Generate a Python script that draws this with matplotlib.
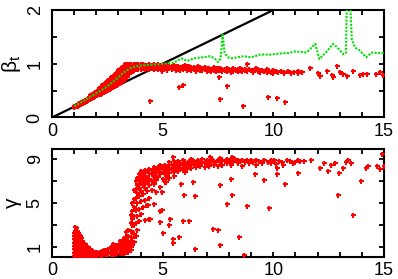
import matplotlib
matplotlib.use("Agg")
import matplotlib.pyplot as plt

plt.rcParams['font.family'] = ['Liberation Sans', 'DejaVu Sans']
plt.rcParams['mathtext.fontset'] = 'custom'
plt.rcParams['mathtext.rm'] = 'Liberation Sans'
plt.rcParams['mathtext.it'] = 'Liberation Sans'

# ---------------- data: top panel (beta_t) ----------------
ref_line_x = [0, 10]
ref_line_y = [0, 2]

beta_dense = [
    (1.00, 0.20), (1.00, 0.22), (1.08, 0.21), (1.08, 0.23), (1.16, 0.22), (1.16, 0.25),
    (1.24, 0.24), (1.24, 0.27), (1.32, 0.25), (1.32, 0.28), (1.40, 0.27), (1.40, 0.30),
    (1.48, 0.28), (1.48, 0.32), (1.56, 0.30), (1.56, 0.34), (1.64, 0.32), (1.64, 0.36),
    (1.72, 0.34), (1.72, 0.38), (1.72, 0.41), (1.80, 0.36), (1.80, 0.40), (1.80, 0.43),
    (1.88, 0.38), (1.88, 0.42), (1.88, 0.45), (1.96, 0.40), (1.96, 0.44), (1.96, 0.47),
    (2.04, 0.41), (2.04, 0.45), (2.04, 0.49), (2.12, 0.43), (2.12, 0.47), (2.12, 0.51),
    (2.12, 0.54), (2.20, 0.44), (2.20, 0.49), (2.20, 0.53), (2.20, 0.57), (2.28, 0.46),
    (2.28, 0.51), (2.28, 0.56), (2.28, 0.60), (2.36, 0.48), (2.36, 0.53), (2.36, 0.58),
    (2.36, 0.63), (2.44, 0.49), (2.44, 0.55), (2.44, 0.61), (2.44, 0.66), (2.52, 0.51),
    (2.52, 0.57), (2.52, 0.63), (2.52, 0.69), (2.60, 0.53), (2.60, 0.59), (2.60, 0.66),
    (2.60, 0.72), (2.68, 0.55), (2.68, 0.62), (2.68, 0.69), (2.68, 0.75), (2.76, 0.57),
    (2.76, 0.64), (2.76, 0.71), (2.76, 0.78), (2.84, 0.58), (2.84, 0.66), (2.84, 0.74),
    (2.84, 0.81), (2.92, 0.60), (2.92, 0.68), (2.92, 0.77), (2.92, 0.85), (3.00, 0.62),
    (3.00, 0.71), (3.00, 0.80), (3.00, 0.88), (3.08, 0.64), (3.08, 0.73), (3.08, 0.82),
    (3.08, 0.91), (3.16, 0.66), (3.16, 0.76), (3.16, 0.85), (3.16, 0.94), (3.24, 0.69),
    (3.24, 0.79), (3.24, 0.88), (3.24, 0.96), (3.32, 0.72), (3.32, 0.82), (3.32, 0.91),
    (3.32, 0.98), (3.32, 1.00), (3.40, 0.76), (3.40, 0.85), (3.40, 0.93), (3.40, 0.99),
    (3.48, 0.80), (3.48, 0.88), (3.48, 0.95), (3.48, 1.00), (3.56, 0.84), (3.56, 0.91),
    (3.56, 0.97), (3.56, 1.00), (3.64, 0.87), (3.64, 0.93), (3.64, 0.98), (3.72, 0.89),
    (3.72, 0.95), (3.72, 0.99), (3.80, 0.90), (3.80, 0.96), (3.80, 1.00), (3.90, 0.91),
    (3.90, 0.96), (3.90, 0.99), (4.00, 0.91), (4.00, 0.95), (4.00, 0.99), (4.10, 0.92),
    (4.10, 0.96), (4.10, 1.00), (4.20, 0.90), (4.20, 0.95), (4.20, 0.98), (4.30, 0.92),
    (4.30, 0.97), (4.40, 0.91), (4.40, 0.96), (4.40, 0.99), (4.50, 0.93), (4.50, 0.97),
    (4.60, 0.90), (4.60, 0.95), (4.60, 0.99), (4.70, 0.92), (4.70, 0.97), (4.80, 0.91),
    (4.80, 0.96), (4.80, 0.99), (4.90, 0.93), (4.90, 0.97), (5.00, 0.90), (5.00, 0.95),
    (5.00, 0.98), (5.10, 0.92), (5.10, 0.97), (5.20, 0.89), (5.20, 0.94), (5.20, 0.98),
    (5.30, 0.93), (5.30, 0.96), (5.40, 0.90), (5.40, 0.95), (5.50, 0.92), (5.50, 0.97),
    (5.60, 0.89), (5.60, 0.94), (5.70, 0.91), (5.70, 0.96), (5.80, 0.93), (5.80, 0.88),
    (5.90, 0.95), (5.90, 0.90), (6.00, 0.92), (6.00, 0.97),
]

beta_spread = [
    (6.1, 0.89), (6.1, 0.94), (6.2, 0.91), (6.2, 0.95), (6.3, 0.93), (6.3, 0.88),
    (6.4, 0.90), (6.4, 0.94), (6.5, 0.92), (6.5, 0.87), (6.6, 0.95), (6.6, 0.90),
    (6.7, 0.91), (6.7, 0.88), (6.8, 0.93), (6.8, 0.89), (6.9, 0.90), (6.9, 0.94),
    (7.0, 0.92), (7.0, 0.87), (7.1, 0.89), (7.1, 0.93), (7.2, 0.91), (7.2, 0.86),
    (7.3, 0.94), (7.3, 0.89), (7.4, 0.90), (7.4, 0.87), (7.5, 0.92), (7.5, 0.88),
    (7.6, 0.89), (7.6, 0.93), (7.7, 0.86), (7.7, 0.91), (7.8, 0.90), (7.8, 0.88),
    (7.9, 0.87), (7.9, 0.92), (8.0, 0.91), (8.0, 0.88), (8.1, 0.89), (8.1, 0.85),
    (8.2, 0.92), (8.2, 0.87), (8.3, 0.88), (8.4, 0.90), (8.4, 0.86), (8.5, 0.93),
    (8.5, 0.89), (8.6, 0.87), (8.7, 0.90), (8.7, 0.88), (8.8, 0.86), (8.83, 0.99),
    (8.9, 0.91), (9.0, 0.88), (9.1, 0.85), (9.1, 0.89), (9.2, 0.92), (9.3, 0.87),
    (9.4, 0.84), (9.4, 0.89), (9.5, 0.88), (9.6, 0.86), (9.7, 0.90), (9.7, 0.84),
    (9.8, 0.87), (9.9, 0.85), (10.0, 0.88), (10.0, 0.83), (10.1, 0.86), (10.2, 0.84),
    (10.35, 0.87), (10.5, 0.85), (10.5, 0.82), (10.65, 0.86), (10.8, 0.83),
    (10.95, 0.85), (11.1, 0.86), (11.1, 0.82), (11.3, 0.84), (11.66, 0.92),
    (12.04, 0.83), (12.1, 0.78), (12.41, 0.86), (12.64, 0.79), (12.71, 0.75),
    (12.90, 0.96), (13.01, 0.85), (13.16, 0.81), (13.32, 0.78), (13.59, 0.87),
    (13.92, 0.79), (14.05, 0.80), (14.22, 0.80), (14.64, 0.81), (14.82, 0.85),
    (14.94, 0.79),
]

beta_outliers = [
    (4.43, 0.31), (4.96, 0.86), (5.75, 0.57), (5.93, 0.61), (7.55, 0.75),
    (7.59, 0.34), (7.89, 0.59), (8.65, 0.22), (9.78, 0.38), (10.18, 0.36),
    (10.53, 0.28),
]

mean_x = [1.0, 1.25, 1.5, 1.75, 2.0, 2.25, 2.5, 2.75, 3.0, 3.25, 3.5, 3.75, 4.0,
          4.5, 5.0, 5.5, 5.86, 6.1, 6.4, 6.8, 7.14, 7.35, 7.5, 7.62, 7.71, 7.8,
          7.95, 8.12, 8.65, 9.0, 9.4, 9.85, 10.3, 10.7, 11.0, 11.5, 11.9, 12.08,
          12.4, 12.7, 12.9, 13.16, 13.28, 13.33, 13.45, 13.55, 13.7, 13.9, 14.2,
          14.45, 14.7, 15.0]
mean_y = [0.21, 0.27, 0.33, 0.39, 0.45, 0.51, 0.58, 0.66, 0.75, 0.84, 0.91, 0.95,
          0.97, 0.98, 1.00, 1.02, 1.10, 1.05, 1.10, 1.12, 1.14, 1.10, 1.03, 1.10,
          1.54, 1.20, 1.12, 1.10, 1.14, 1.12, 1.17, 1.17, 1.19, 1.20, 1.23, 1.21,
          1.37, 1.09, 1.22, 1.37, 1.30, 1.18, 1.20, 2.30, 2.30, 1.45, 1.30, 1.25,
          1.12, 1.21, 1.20, 1.20]

# ---------------- data: bottom panel (gamma) ----------------
gamma_low = [
    (1.00, 0.2), (1.00, 0.5), (1.00, 0.8), (1.00, 1.1), (1.00, 1.4), (1.00, 1.7), (1.00, 2.0), (1.00, 2.3),
    (1.04, 0.3), (1.04, 0.6), (1.04, 0.9), (1.04, 1.2), (1.04, 1.5), (1.04, 1.8), (1.04, 2.1), (1.04, 2.5), (1.04, 2.8),
    (1.08, 0.2), (1.08, 0.5), (1.08, 0.8), (1.08, 1.1), (1.08, 1.4), (1.08, 1.7), (1.08, 2.0), (1.08, 2.4), (1.08, 2.7),
    (1.12, 0.3), (1.12, 0.6), (1.12, 0.9), (1.12, 1.2), (1.12, 1.5), (1.12, 1.8), (1.12, 2.2), (1.12, 2.5),
    (1.16, 0.2), (1.16, 0.5), (1.16, 0.8), (1.16, 1.1), (1.16, 1.4), (1.16, 1.7), (1.16, 2.0), (1.16, 2.3),
    (1.20, 0.3), (1.20, 0.6), (1.20, 0.9), (1.20, 1.2), (1.20, 1.5), (1.20, 1.8), (1.20, 2.1),
    (1.25, 0.2), (1.25, 0.5), (1.25, 0.8), (1.25, 1.1), (1.25, 1.4), (1.25, 1.7), (1.25, 2.0),
    (1.30, 0.3), (1.30, 0.6), (1.30, 0.9), (1.30, 1.2), (1.30, 1.5), (1.30, 1.8),
    (1.36, 0.2), (1.36, 0.5), (1.36, 0.8), (1.36, 1.1), (1.36, 1.4), (1.36, 1.6),
    (1.42, 0.3), (1.42, 0.6), (1.42, 0.9), (1.42, 1.2), (1.42, 1.4),
    (1.48, 0.2), (1.48, 0.5), (1.48, 0.8), (1.48, 1.1), (1.48, 1.3),
    (1.55, 0.3), (1.55, 0.6), (1.55, 0.9), (1.55, 1.1),
    (1.62, 0.25), (1.62, 0.5), (1.62, 0.75), (1.62, 1.0),
    (1.70, 0.3), (1.70, 0.55), (1.70, 0.8), (1.78, 0.25), (1.78, 0.5), (1.78, 0.7),
    (1.86, 0.3), (1.86, 0.5), (1.86, 0.65), (1.95, 0.3), (1.95, 0.45), (1.95, 0.6),
    (2.05, 0.3), (2.05, 0.45), (2.05, 0.6), (2.15, 0.3), (2.15, 0.45), (2.15, 0.6),
    (2.25, 0.3), (2.25, 0.5), (2.25, 0.65), (2.35, 0.35), (2.35, 0.5), (2.35, 0.7),
    (2.45, 0.35), (2.45, 0.55), (2.45, 0.75), (2.55, 0.35), (2.55, 0.55), (2.55, 0.8),
    (2.65, 0.4), (2.65, 0.6), (2.65, 0.85), (2.65, 1.0), (2.75, 0.4), (2.75, 0.65),
    (2.75, 0.9), (2.77, 1.3), (2.85, 0.4), (2.85, 0.65), (2.85, 0.9), (2.85, 1.1),
    (2.95, 0.45), (2.95, 0.7), (2.95, 0.95), (2.95, 1.2),
    (3.05, 0.45), (3.05, 0.7), (3.05, 1.0), (3.05, 1.3), (3.05, 1.6),
    (3.15, 0.5), (3.15, 0.75), (3.15, 1.0), (3.15, 1.3), (3.15, 1.6),
    (3.25, 0.5), (3.25, 0.8), (3.25, 1.1), (3.25, 1.4), (3.25, 1.8),
    (3.35, 0.55), (3.35, 0.85), (3.35, 1.15), (3.35, 1.5), (3.35, 1.9), (3.35, 2.4),
    (3.45, 0.6), (3.45, 0.9), (3.45, 1.2), (3.45, 1.6), (3.45, 2.0), (3.45, 2.6),
]

gamma_rise = [
    (3.55, 0.7), (3.55, 1.0), (3.55, 1.4), (3.55, 1.9), (3.55, 2.5), (3.55, 3.2), (3.55, 3.9),
    (3.62, 1.2), (3.62, 1.8), (3.62, 2.4), (3.62, 3.0), (3.62, 3.6), (3.62, 4.3), (3.62, 5.0),
    (3.70, 1.5), (3.70, 2.2), (3.70, 3.0), (3.70, 3.8), (3.70, 4.6), (3.70, 5.4), (3.70, 6.2),
    (3.78, 2.0), (3.78, 3.2), (3.78, 4.4), (3.78, 5.5), (3.78, 6.3), (3.78, 7.0),
    (3.86, 2.6), (3.86, 3.8), (3.86, 5.0), (3.86, 5.9), (3.86, 6.6), (3.86, 7.3),
    (3.94, 3.4), (3.94, 4.5), (3.94, 5.6), (3.94, 6.4), (3.94, 7.0), (3.94, 7.6),
    (4.02, 4.0), (4.02, 5.2), (4.02, 6.1), (4.02, 6.8), (4.02, 7.4), (4.02, 7.9),
    (4.10, 4.6), (4.10, 5.8), (4.10, 6.6), (4.10, 7.2), (4.10, 7.7),
    (4.20, 3.5), (4.20, 5.3), (4.20, 6.4), (4.20, 7.0), (4.20, 7.5), (4.20, 8.0),
    (4.30, 4.8), (4.30, 6.1), (4.30, 6.9), (4.30, 7.4), (4.30, 7.9),
    (4.40, 3.6), (4.40, 5.5), (4.40, 6.6), (4.40, 7.2), (4.40, 7.7), (4.40, 8.1),
    (4.50, 6.2), (4.50, 7.0), (4.50, 7.6), (4.50, 8.0),
    (4.60, 4.9), (4.60, 6.7), (4.60, 7.4), (4.60, 7.9), (4.60, 8.3),
    (4.70, 6.0), (4.70, 7.1), (4.70, 7.7), (4.70, 8.1),
    (4.80, 7.4), (4.80, 7.9), (4.80, 8.3), (4.90, 6.5), (4.90, 7.6), (4.90, 8.1), (4.90, 8.5),
    (5.00, 7.2), (5.00, 7.8), (5.00, 8.3), (5.10, 6.9), (5.10, 7.6), (5.10, 8.0), (5.10, 8.5),
    (5.20, 7.4), (5.20, 8.0), (5.20, 8.4), (5.30, 7.7), (5.30, 8.2), (5.30, 8.7),
]

gamma_plateau = [
    (5.4, 8.0), (5.4, 8.5), (5.5, 7.8), (5.5, 8.3), (5.5, 8.8), (5.6, 8.1), (5.6, 8.6),
    (5.7, 7.9), (5.7, 8.4), (5.7, 8.8), (5.8, 8.2), (5.8, 8.6), (5.9, 8.0), (5.9, 8.5),
    (5.9, 8.9), (6.0, 8.3), (6.0, 8.7), (6.1, 8.1), (6.1, 8.6), (6.2, 8.4), (6.2, 8.8),
    (6.3, 8.2), (6.3, 8.6), (6.3, 9.0), (6.4, 8.5), (6.4, 8.8), (6.5, 8.3), (6.5, 8.7),
    (6.6, 8.6), (6.6, 8.9), (6.7, 8.4), (6.7, 8.8), (6.8, 8.6), (6.8, 9.0), (6.9, 8.3),
    (6.9, 8.7), (7.0, 8.6), (7.0, 8.9), (7.1, 8.4), (7.1, 8.8), (7.2, 8.7), (7.2, 9.0),
    (7.3, 8.5), (7.3, 8.8), (7.4, 8.7), (7.5, 8.4), (7.5, 8.9), (7.6, 8.7), (7.6, 9.1),
    (7.7, 8.5), (7.7, 8.9), (7.8, 8.8), (7.9, 8.6), (7.9, 9.0), (8.0, 8.8), (8.1, 8.5),
    (8.1, 8.9), (8.2, 8.7), (8.2, 9.1), (8.3, 8.9), (8.4, 8.6), (8.4, 8.9), (8.5, 8.8),
    (8.6, 8.4), (8.6, 8.9), (8.7, 8.7), (8.8, 8.9), (8.9, 8.6), (9.0, 8.9), (9.1, 8.7),
    (9.2, 8.5), (9.2, 8.9), (9.35, 8.8), (9.5, 8.6), (9.6, 8.9), (9.75, 8.7), (9.9, 8.9),
    (9.9, 8.6), (10.0, 8.8), (10.05, 8.95), (10.1, 8.55), (10.25, 8.8), (10.4, 8.7),
    (10.45, 8.5), (10.6, 8.9), (10.75, 8.85), (10.9, 8.6), (11.0, 8.75), (11.1, 8.9),
    (11.2, 8.85), (11.4, 8.8), (11.69, 8.9), (12.11, 8.2), (12.3, 8.6), (12.49, 7.9),
    (12.6, 8.5), (12.8, 8.6), (12.98, 7.7), (13.16, 8.15), (13.3, 8.7), (13.39, 8.9),
    (13.5, 8.6), (14.19, 8.2), (14.3, 8.4), (14.67, 8.39), (14.82, 8.09), (14.9, 9.45),
    (15.0, 8.4),
]

gamma_outliers = [
    (5.48, 9.2), (7.14, 9.2), (8.12, 9.2), (7.59, 6.65), (8.09, 7.15), (8.15, 5.75),
    (7.89, 4.96), (8.83, 4.76), (9.80, 4.56), (9.60, 7.05), (9.17, 7.6), (6.39, 6.87),
    (5.81, 6.72), (5.98, 5.72), (6.46, 5.66), (4.88, 4.26), (5.33, 3.53), (5.28, 3.04),
    (5.03, 2.31), (5.93, 3.35), (6.20, 3.35), (5.48, 1.77), (5.46, 1.40), (5.74, 1.91),
    (6.46, 0.79), (7.29, 2.66), (7.52, 2.57), (7.58, 1.18), (8.43, 1.90), (8.66, 0.27),
    (10.17, 8.15), (10.18, 7.65), (10.52, 6.69), (11.13, 7.7), (12.94, 5.72),
    (13.59, 3.93), (13.95, 7.02), (4.96, 4.35), (4.43, 3.6), (4.35, 4.8), (4.88, 3.28),
    (4.95, 6.0), (5.15, 6.9), (5.30, 7.3), (5.50, 7.5), (6.00, 7.8),
]

# ---------------- figure ----------------
fig = plt.figure(figsize=(3.98, 2.79), dpi=100)
ax1 = fig.add_axes([0.1307, 0.579, 0.834, 0.385])
ax2 = fig.add_axes([0.1307, 0.0806, 0.834, 0.385])

red = '#ff0000'
mk = dict(marker='+', linestyle='none', color=red, markersize=3.6, mew=1.5)

def xy(pts):
    return [p[0] for p in pts], [p[1] for p in pts]

ax1.plot(ref_line_x, ref_line_y, color='black', lw=1.6, zorder=2)
for grp in (beta_dense, beta_spread, beta_outliers):
    gx, gy = xy(grp)
    ax1.plot(gx, gy, zorder=3, **mk)
ax1.plot(mean_x, mean_y, color='#00e000', lw=1.5, linestyle=(0, (1, 0.7)), zorder=4)

for grp in (gamma_low, gamma_rise, gamma_plateau, gamma_outliers):
    gx, gy = xy(grp)
    ax2.plot(gx, gy, zorder=3, **mk)

ax1.set_xlim(0, 15)
ax1.set_ylim(0, 2)
ax2.set_xlim(0, 15)
ax2.set_ylim(0.15, 9.9)

xt = list(range(16))
xl = [str(v) if v % 5 == 0 else '' for v in xt]
for ax in (ax1, ax2):
    ax.set_xticks(xt)
    ax.set_xticklabels(xl)
    ax.tick_params(direction='in', length=3.5, width=1.3, top=True, right=True,
                   labelsize=13, pad=4)
    for s in ax.spines.values():
        s.set_linewidth(1.5)

ax1.set_yticks([0, 0.5, 1, 1.5, 2])
ax1.set_yticklabels(['0', '', '1', '', '2'], rotation=90, va='center')
ax2.set_yticks([1, 3, 5, 7, 9])
ax2.set_yticklabels(['1', '', '5', '', '9'], rotation=90, va='center')
for ax in (ax1, ax2):
    ax.tick_params(axis='y', pad=6)

ax1.set_ylabel(r'$\mathrm{\beta_t}$', fontsize=15)
ax1.yaxis.set_label_coords(-0.088, 0.5)
ax2.set_ylabel('γ', fontsize=15)
ax2.yaxis.set_label_coords(-0.092, 0.5)

fig.savefig('out.png', dpi=100)
